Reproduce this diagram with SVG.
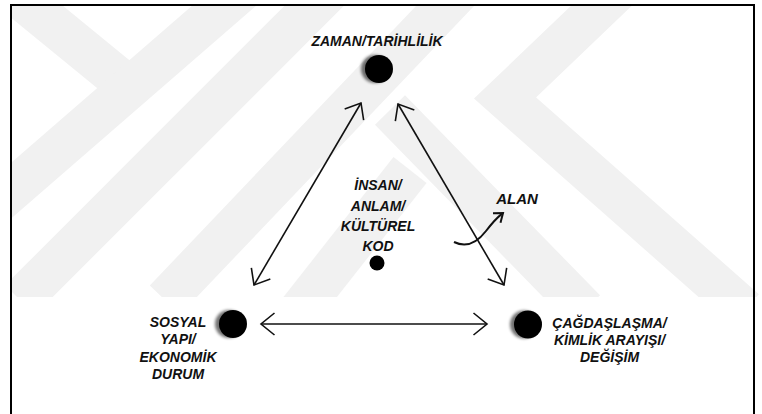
<svg xmlns="http://www.w3.org/2000/svg" width="762" height="414" viewBox="0 0 762 414">
<defs>
<style>
.lbl{font-family:"Liberation Sans",Arial,sans-serif;font-weight:bold;font-style:italic;font-size:14px;fill:#111;text-anchor:middle}
.wm{fill:none;stroke:#f1f1f1;stroke-width:42;stroke-linejoin:miter}
.conn{fill:none;stroke:#111;stroke-width:1.6}
.dot{fill:#000}
.halo{fill:#000;opacity:0.55}
</style>
<marker id="ah" viewBox="-20 -20 40 40" markerWidth="40" markerHeight="40" markerUnits="userSpaceOnUse" refX="0" refY="0" orient="auto-start-reverse" overflow="visible"><path d="M-13.5,-11 L0,0 L-13.5,11" fill="none" stroke="#111" stroke-width="1.6"/></marker>
<marker id="ah2" viewBox="-20 -20 40 40" markerWidth="40" markerHeight="40" markerUnits="userSpaceOnUse" refX="0" refY="0" orient="auto" overflow="visible"><path d="M-8,-6 L0,0 L-8,6" fill="none" stroke="#111" stroke-width="2"/></marker>
<filter id="blur" x="-50%" y="-50%" width="200%" height="200%"><feGaussianBlur stdDeviation="1.8"/></filter>
<clipPath id="wmclip"><rect x="12" y="6" width="750" height="291"/></clipPath>
</defs>
<rect width="762" height="414" fill="#fff"/>
<g id="watermark" clip-path="url(#wmclip)">
<polyline class="wm" points="8,-12 118,78"/>
<polyline class="wm" points="248,-15 -25,222"/>
<polyline class="wm" points="335,-15 20,300"/>
<polyline class="wm" points="465,-15 165,300"/>
<polyline class="wm" points="300,310 410,170"/>
<polyline class="wm" points="390,110 585,310"/>
<polyline class="wm" points="620,-12 505,98 745,310"/>
</g>
<rect id="frame" x="11" y="5" width="743" height="430" fill="none" stroke="#000" stroke-width="2"/>
<g id="connectors">
<line class="conn" x1="361" y1="103" x2="254" y2="285" marker-start="url(#ah)" marker-end="url(#ah)"/>
<line class="conn" x1="398" y1="104" x2="504" y2="285" marker-start="url(#ah)" marker-end="url(#ah)"/>
<line class="conn" x1="261" y1="324" x2="487" y2="324" marker-start="url(#ah)" marker-end="url(#ah)"/>
<path class="conn" style="stroke-width:2" d="M454,242 C466,248 476,244 486,231 S498,217 503,213" marker-end="url(#ah2)"/>
</g>
<g id="node-zaman">
<text class="lbl" x="377" y="46">ZAMAN/TARİHLİLİK</text>
<circle class="halo" cx="375" cy="69" r="14" filter="url(#blur)"/>
<circle class="dot" cx="379" cy="69" r="14"/>
</g>
<g id="node-insan">
<text class="lbl" x="378" y="190">İNSAN/</text>
<text class="lbl" x="378" y="210.5">ANLAM/</text>
<text class="lbl" x="378" y="231">KÜLTÜREL</text>
<text class="lbl" x="378" y="251">KOD</text>
<circle class="dot" cx="377" cy="263" r="7.5"/>
</g>
<g id="node-alan">
<text class="lbl" x="517" y="204" style="font-size:15px">ALAN</text>
</g>
<g id="node-sosyal">
<text class="lbl" x="178" y="327">SOSYAL</text>
<text class="lbl" x="178" y="344">YAPI/</text>
<text class="lbl" x="178" y="361.5">EKONOMİK</text>
<text class="lbl" x="178" y="378.5">DURUM</text>
<circle class="halo" cx="229" cy="324" r="14" filter="url(#blur)"/>
<circle class="dot" cx="233" cy="324" r="14"/>
</g>
<g id="node-cagdas">
<text class="lbl" x="609.5" y="328">ÇAĞDAŞLAŞMA/</text>
<text class="lbl" x="609.5" y="345">KİMLİK ARAYIŞI/</text>
<text class="lbl" x="609.5" y="361.5">DEĞİŞİM</text>
<circle class="halo" cx="524" cy="324.5" r="14" filter="url(#blur)"/>
<circle class="dot" cx="528" cy="324.5" r="14"/>
</g>
</svg>
